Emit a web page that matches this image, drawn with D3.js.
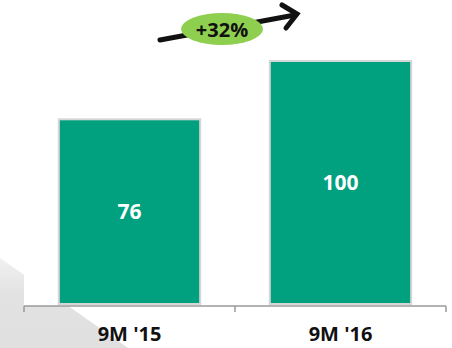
<!DOCTYPE html>
<html>
<head>
<meta charset="utf-8">
<script src="https://cdn.jsdelivr.net/npm/d3@7"></script>
<style>
  body { margin: 0; background: #fff; }
  svg { display: block; font-family: "Open Sans", sans-serif; }
</style>
</head>
<body>
<svg id="chart" width="452" height="348"></svg>
<script>
const categories = ["9M '15", "9M '16"];
const values = [76, 100];
const growthLabel = "+32%";

const svg = d3.select("#chart");

// plot area
const plotLeft = 24, plotRight = 446, plotBase = 304, plotTop = 61;

// grey wedge in the corner (background decoration)
const grad = svg.append("defs").append("linearGradient")
  .attr("id", "wedge").attr("x1", 0).attr("y1", 0).attr("x2", 0).attr("y2", 1);
grad.append("stop").attr("offset", "0%").attr("stop-color", "#f1f1f1");
grad.append("stop").attr("offset", "40%").attr("stop-color", "#e2e2e2");
grad.append("stop").attr("offset", "100%").attr("stop-color", "#e0e0e0");
svg.append("polygon")
  .attr("points", "0,258 128,348 0,348")
  .attr("fill", "url(#wedge)");
svg.append("rect")
  .attr("x", plotLeft).attr("y", 0)
  .attr("width", 452 - plotLeft).attr("height", plotBase + 2)
  .attr("fill", "#fff");

const xScale = d3.scaleBand()
  .domain(categories)
  .range([plotLeft, plotRight])
  .padding(0);

const yScale = d3.scaleLinear()
  .domain([0, d3.max(values)])
  .range([plotBase, plotTop]);

const barW = xScale.bandwidth() * 0.67;
const barOff = (xScale.bandwidth() - barW) / 2;

const data = categories.map((c, i) => ({ name: c, value: values[i] }));

svg.selectAll(".bar")
  .data(data)
  .enter().append("rect")
  .attr("class", "bar")
  .attr("x", d => xScale(d.name) + barOff)
  .attr("y", d => yScale(d.value))
  .attr("width", barW)
  .attr("height", d => plotBase - yScale(d.value))
  .attr("fill", "#01a07f")
  .attr("stroke", "#d6d6d6")
  .attr("stroke-width", 2);

svg.selectAll(".bar-label")
  .data(data)
  .enter().append("text")
  .attr("class", "bar-label")
  .attr("x", d => xScale(d.name) + xScale.bandwidth() / 2)
  .attr("y", d => (yScale(d.value) + plotBase) / 2)
  .attr("dy", "0.35em")
  .attr("text-anchor", "middle")
  .attr("fill", "#fff")
  .attr("font-size", 21)
  .attr("font-weight", "bold")
  .text(d => d.value);

// axis
const axisY = plotBase + 2;
const xAxis = d3.axisBottom(xScale).tickSize(0).tickPadding(21);
const ax = svg.append("g")
  .attr("transform", `translate(0, ${axisY})`)
  .call(xAxis);
ax.select(".domain").attr("stroke", "#9a9a9a").attr("stroke-width", 1.5)
  .attr("d", `M${plotLeft},0H${plotRight}`);
ax.selectAll(".tick text")
  .attr("font-size", 20)
  .attr("font-weight", "bold")
  .attr("fill", "#111")
  .attr("font-family", "'Open Sans', sans-serif");

// boundary ticks
const bounds = categories.map(c => xScale(c)).concat([plotRight]);
svg.selectAll(".btick")
  .data(bounds)
  .enter().append("line")
  .attr("class", "btick")
  .attr("x1", d => d).attr("x2", d => d)
  .attr("y1", axisY).attr("y2", axisY + 6)
  .attr("stroke", "#9a9a9a")
  .attr("stroke-width", 1.5);

// growth arrow
svg.append("line")
  .attr("x1", 160).attr("y1", 40)
  .attr("x2", 295).attr("y2", 15)
  .attr("stroke", "#111")
  .attr("stroke-width", 5)
  .attr("stroke-linecap", "round");
svg.append("path")
  .attr("d", "M282,5 L297,14 L286,28")
  .attr("fill", "none")
  .attr("stroke", "#111")
  .attr("stroke-width", 5)
  .attr("stroke-linejoin", "miter")
  .attr("stroke-linecap", "round");

svg.append("ellipse")
  .attr("cx", 222).attr("cy", 29)
  .attr("rx", 41).attr("ry", 16)
  .attr("fill", "#8fcf4f");
svg.append("text")
  .attr("x", 222).attr("y", 30)
  .attr("dy", "0.36em")
  .attr("text-anchor", "middle")
  .attr("font-size", 20)
  .attr("font-weight", "bold")
  .attr("fill", "#111")
  .text(growthLabel);
</script>
</body>
</html>
